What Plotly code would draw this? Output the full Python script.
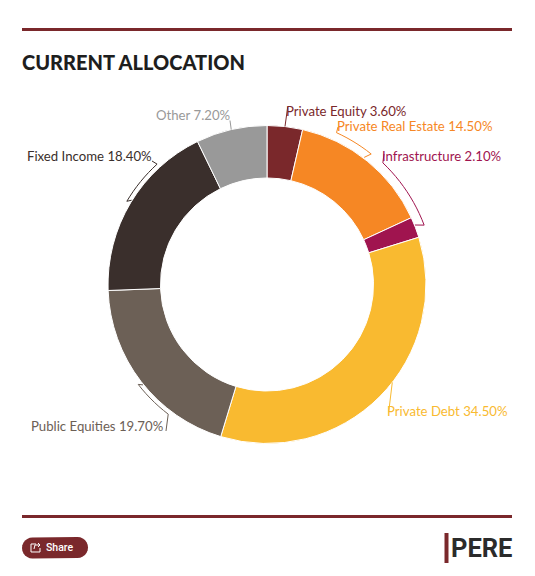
import math
import plotly.graph_objects as go

W, H = 535, 576

categories = ["Private Equity", "Private Real Estate", "Infrastructure", "Private Debt",
              "Public Equities", "Fixed Income", "Other"]
allocation = [3.6, 14.5, 2.1, 34.5, 19.7, 18.4, 7.2]
colors = ["#7A282B", "#F68724", "#A0144F", "#F9BA30", "#6C6056", "#3A2F2C", "#999999"]

CX, CY, R = 267, 284.5, 158.5


def px(x):
    return x / W


def py(y):
    return 1 - y / H


def polar_point(angle, radius):
    a = math.radians(angle)
    return CX + radius * math.sin(a), CY - radius * math.cos(a)


def svg_path(points, close=False):
    body = " L ".join(f"{px(x):.5f},{py(y):.5f}" for x, y in points)
    return "M " + body + (" Z" if close else "")


def bracket_points(start, end, radius, tail_radius, tail_xy):
    """Arc around the ring between two angles, joined to the label and back to the ring."""
    n = max(2, int(abs(end - start) / 2))
    arc = [polar_point(start + (end - start) * i / n, radius) for i in range(n + 1)]
    return [tail_xy] + arc + [polar_point(end + (1 if end > start else -1) * -1.2, tail_radius)]


# text position and anchor for each slice label
label_pos = {
    "Private Equity": (284, 111, "left"),
    "Private Real Estate": (335, 126, "left"),
    "Infrastructure": (380, 156, "left"),
    "Private Debt": (385, 411, "left"),
    "Public Equities": (164.5, 426, "right"),
    "Fixed Income": (154, 156, "right"),
    "Other": (231.5, 115, "right"),
}

# leader geometry: bracketed leaders run along the ring, short ones are simple ticks
brackets = {
    "Private Real Estate": (24.6, 38.6, 167, 160, (338, 127)),
    "Infrastructure": (43.6, 69.3, 168, 159.5, (384, 154)),
    "Public Equities": (217.3, 232.2, 163, 159.5, (166, 431)),
    "Fixed Income": (317.6, 300.7, 163, 159.5, (152, 161)),
}
ticks = {
    "Private Equity": ((287.7, 107), 6.5),
    "Private Debt": ((388.7, 412), 128),
    "Other": ((230, 120.5), 347),
}

fig = go.Figure(go.Pie(
    labels=categories,
    values=allocation,
    sort=False,
    direction="clockwise",
    rotation=0,
    hole=0.67,
    textinfo="none",
    marker=dict(colors=colors, line=dict(color="#FFFFFF", width=1)),
    domain=dict(x=[px(CX - R - 0.5), px(CX + R + 0.5)], y=[py(CY + R + 0.5), py(CY - R - 0.5)]),
    showlegend=False,
))

shapes = []
annotations = []

# rules above and below the chart
for y in (29.5, 516.5):
    shapes.append(dict(type="rect", xref="paper", yref="paper", x0=px(22), x1=px(512),
                       y0=py(y - 1.5), y1=py(y + 1.5),
                       fillcolor="#7A282B", line_width=0))

annotations.append(dict(text="CURRENT ALLOCATION", xref="paper", yref="paper",
                        x=px(20), y=py(62), xanchor="left", yanchor="middle", showarrow=False,
                        font=dict(family="Lato", size=20, color="#1E1E1E", weight=900)))

# slice labels and their leaders
for name, value, color in zip(categories, allocation, colors):
    lx, ly, anchor = label_pos[name]
    annotations.append(dict(
        text=f"{name} {value:.2f}%", xref="paper", yref="paper",
        x=px(lx), y=py(ly), xanchor=anchor, yanchor="middle", showarrow=False,
        font=dict(family="Lato", size=13.2, color=color)))
    if name in brackets:
        start, end, radius, tail_radius, tail_xy = brackets[name]
        points = bracket_points(start, end, radius, tail_radius, tail_xy)
    else:
        tail_xy, angle = ticks[name]
        points = [tail_xy, polar_point(angle, R + 0.5)]
    shapes.append(dict(type="path", xref="paper", yref="paper", path=svg_path(points),
                       line=dict(color=color, width=1)))

# share button: pill with a small box-and-arrow icon
r = 10.5
bx0, bx1, by0, by1 = 22, 88, 537, 558.5
pill = [(bx1 - r + r * math.sin(math.radians(t)), by0 + r - r * math.cos(math.radians(t)))
        for t in range(0, 181, 15)]
pill += [(bx0 + r - r * math.sin(math.radians(t)), by1 - r + r * math.cos(math.radians(t)))
         for t in range(0, 181, 15)]
shapes.append(dict(type="path", xref="paper", yref="paper", path=svg_path(pill, close=True),
                   fillcolor="#7A282B", line_width=0))
icon = [(36, 544), (31, 544), (31, 552), (40, 552), (40, 548)]
shapes.append(dict(type="path", xref="paper", yref="paper", path=svg_path(icon),
                   line=dict(color="#FFFFFF", width=1)))
arrow = [(34, 549), (35, 545), (40, 545), (38, 543), (40, 545), (38, 547)]
shapes.append(dict(type="path", xref="paper", yref="paper", path=svg_path(arrow),
                   line=dict(color="#FFFFFF", width=1)))
annotations.append(dict(text="Share", xref="paper", yref="paper", x=px(44), y=py(547.5),
                        xanchor="left", yanchor="middle", showarrow=False,
                        font=dict(family="Roboto", size=10.5, color="#FFFFFF", weight=500)))

# publication mark
shapes.append(dict(type="rect", xref="paper", yref="paper", x0=px(444.5), x1=px(448.5),
                   y0=py(563), y1=py(533), fillcolor="#7A282B", line_width=0))
annotations.append(dict(text="PERE", xref="paper", yref="paper", x=px(514), y=py(548),
                        xanchor="right", yanchor="middle", showarrow=False,
                        font=dict(family="Liberation Sans Narrow, Roboto", size=25.5, color="#2B2B2B", weight=700)))

fig.update_layout(
    width=W, height=H, margin=dict(l=0, r=0, t=0, b=0),
    paper_bgcolor="#FFFFFF", plot_bgcolor="#FFFFFF",
    shapes=shapes, annotations=annotations,
)

fig.write_html("out.html", config=dict(displayModeBar=False))
